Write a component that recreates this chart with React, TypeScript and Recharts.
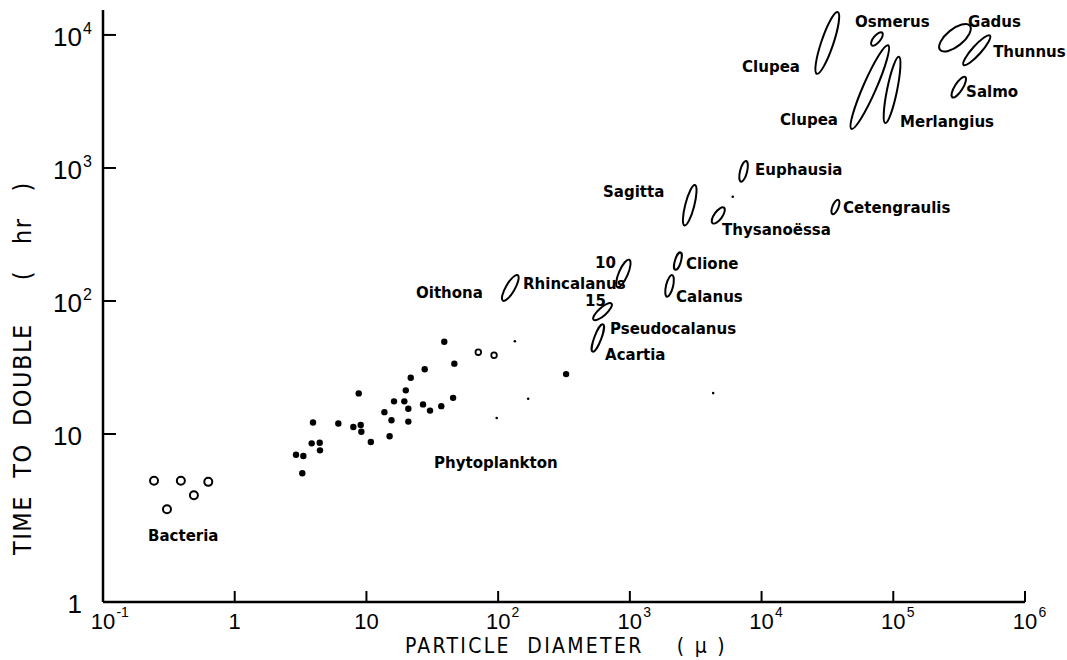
import React from "react";
import { ScatterChart, Scatter, XAxis, YAxis } from "recharts";

// axis setup (log-log). The scanned y axis is stretched below 10, so the
// bottom of the axis is labelled "1" like in the printed figure.
const Y_MIN = 0.546;
const Y_MAX = 15400;
const X_TICKS = [0.1, 1, 10, 100, 1e3, 1e4, 1e5, 1e6];
const X_TICK_BASE = ["10", "1", "10", "10", "10", "10", "10", "10"];
const X_TICK_SUP = ["-1", "", "", "2", "3", "4", "5", "6"];
const Y_TICKS = [Y_MIN, 10, 100, 1000, 10000];
const Y_TICK_BASE = ["1", "10", "10", "10", "10"];
const Y_TICK_SUP = ["", "", "2", "3", "4"];

// particle diameter (µ) vs time to double (hr)
const BACTERIA = [
  { x: 0.244, y: 4.46 },
  { x: 0.39, y: 4.46 },
  { x: 0.63, y: 4.37 },
  { x: 0.49, y: 3.46 },
  { x: 0.306, y: 2.72 },
];

const PHYTOPLANKTON = [
  { x: 39.0, y: 49.4 },
  { x: 46.5, y: 33.8 },
  { x: 27.7, y: 30.7 },
  { x: 21.7, y: 26.5 },
  { x: 8.74, y: 20.2 },
  { x: 19.9, y: 21.3 },
  { x: 16.2, y: 17.6 },
  { x: 19.4, y: 17.6 },
  { x: 45.5, y: 18.7 },
  { x: 26.9, y: 16.7 },
  { x: 20.8, y: 15.5 },
  { x: 30.4, y: 15.0 },
  { x: 37.0, y: 16.2 },
  { x: 13.7, y: 14.6 },
  { x: 3.93, y: 12.2 },
  { x: 6.12, y: 12.0 },
  { x: 7.95, y: 11.3 },
  { x: 9.05, y: 11.7 },
  { x: 9.15, y: 10.4 },
  { x: 15.5, y: 12.7 },
  { x: 20.8, y: 12.4 },
  { x: 10.8, y: 8.71 },
  { x: 15.0, y: 9.61 },
  { x: 3.84, y: 8.51 },
  { x: 4.42, y: 8.6 },
  { x: 4.44, y: 7.54 },
  { x: 2.92, y: 6.99 },
  { x: 3.32, y: 6.83 },
  { x: 3.26, y: 5.07 },
  { x: 328, y: 28.2 },
];

const PHYTO_OPEN = [
  { x: 70.7, y: 41.2 },
  { x: 93.1, y: 39.1 },
];

const SPECKS = [
  { x: 134, y: 49.8 },
  { x: 169, y: 18.4 },
  { x: 97.5, y: 13.2 },
  { x: 4290, y: 20.3 },
  { x: 6040, y: 608 },
];

// each animal group: the two ends of its ellipse
const ELLIPSES = [
  { id: "Rhincalanus", ends: [{ x: 110.9, y: 104 }, { x: 138, y: 151 }] },
  { id: "Calanus10", ends: [{ x: 818, y: 132 }, { x: 974, y: 197 }] },
  { id: "Calanus15", ends: [{ x: 544, y: 74.1 }, { x: 707, y: 93.3 }] },
  { id: "Acartia", ends: [{ x: 528, y: 42.8 }, { x: 618, y: 64.9 }] },
  { id: "Euphausia", ends: [{ x: 7023, y: 812 }, { x: 7586, y: 1096 }] },
  { id: "Sagitta", ends: [{ x: 2625, y: 384 }, { x: 3090, y: 716 }] },
  { id: "Thysanoessa", ends: [{ x: 4337, y: 395 }, { x: 5074, y: 489 }] },
  { id: "Cetengraulis", ends: [{ x: 34900, y: 461 }, { x: 37900, y: 562 }] },
  { id: "Clione", ends: [{ x: 2231, y: 176 }, { x: 2405, y: 226 }] },
  { id: "Calanus", ends: [{ x: 1926, y: 111 }, { x: 2080, y: 152 }] },
  { id: "ClupeaTop", ends: [{ x: 26720, y: 5362 }, { x: 37240, y: 14140 }] },
  { id: "Osmerus", ends: [{ x: 69880, y: 8556 }, { x: 80800, y: 10170 }] },
  { id: "ClupeaLow", ends: [{ x: 49260, y: 2069 }, { x: 89270, y: 7943 }] },
  { id: "Merlangius", ends: [{ x: 87700, y: 2268 }, { x: 109300, y: 6568 }] },
  { id: "Gadus", ends: [{ x: 240000, y: 8100 }, { x: 360000, y: 11200 }] },
  { id: "Thunnus", ends: [{ x: 351000, y: 6127 }, { x: 527600, y: 9610 }] },
  { id: "Salmo", ends: [{ x: 286100, y: 3496 }, { x: 344900, y: 4692 }] },
];

// minor axis of each ellipse, px
const ELLIPSE_WIDTH: Record<string, number> = {
  Rhincalanus: 9, Calanus10: 9, Calanus15: 8, Acartia: 7, Euphausia: 7,
  Sagitta: 9, Thysanoessa: 8, Cetengraulis: 6, Clione: 6, Calanus: 7,
  ClupeaTop: 12, Osmerus: 7, ClupeaLow: 13, Merlangius: 10, Gadus: 17,
  Thunnus: 9, Salmo: 8,
};

const LABELS = [
  { text: "Osmerus", x: 51290, y: 12525 },
  { text: "Gadus", x: 369800, y: 12525 },
  { text: "Thunnus", x: 573000, y: 7451 },
  { text: "Salmo", x: 357000, y: 3727 },
  { text: "Clupea", x: 7112, y: 5745 },
  { text: "Clupea", x: 13820, y: 2296 },
  { text: "Merlangius", x: 112700, y: 2218 },
  { text: "Euphausia", x: 8925, y: 966 },
  { text: "Sagitta", x: 626, y: 660 },
  { text: "Cetengraulis", x: 41570, y: 500 },
  { text: "Thysanoëssa", x: 5012, y: 342 },
  { text: "10", x: 544, y: 193 },
  { text: "Clione", x: 2671, y: 190 },
  { text: "Oithona", x: 23.8, y: 115 },
  { text: "Rhincalanus", x: 154.5, y: 134 },
  { text: "Calanus", x: 2243, y: 107 },
  { text: "15", x: 457, y: 100 },
  { text: "Pseudocalanus", x: 707, y: 61.6 },
  { text: "Acartia", x: 648, y: 39.3 },
  { text: "Phytoplankton", x: 32.6, y: 6.05 },
  { text: "Bacteria", x: 0.2197, y: 1.71 },
];

const TICK_FONT = "'Liberation Sans', Arial, sans-serif";
const TITLE_FONT = "'Liberation Sans Narrow', 'DejaVu Sans Condensed', sans-serif";
const LABEL_FONT = "'DejaVu Sans', sans-serif";

function XTick(props: any) {
  const { x, y, index } = props;
  const base = X_TICK_BASE[index];
  const sup = X_TICK_SUP[index];
  const half = base.length * 6.2;
  return (
    <g>
      {index > 0 && <line x1={x} y1={y} x2={x} y2={y - 11} stroke="#000" strokeWidth={2} />}
      <text x={x} y={y + 27} textAnchor="middle" fontSize={22} fontFamily={TICK_FONT} fill="#000">
        {base}
      </text>
      {sup && (
        <text x={x + half + 1} y={y + 15} textAnchor="start" fontSize={14} fontFamily={TICK_FONT} fill="#000">
          {sup}
        </text>
      )}
    </g>
  );
}

function YTick(props: any) {
  const { x, y, index } = props;
  const base = Y_TICK_BASE[index];
  const sup = Y_TICK_SUP[index];
  return (
    <g>
      {index > 0 && <line x1={x} y1={y} x2={x + 13} y2={y} stroke="#000" strokeWidth={2} />}
      <text x={x - 21} y={y + 11} textAnchor="end" fontSize={26} fontFamily={TICK_FONT} fill="#000">
        {base}
      </text>
      {sup && (
        <text x={x - 20} y={y - 1} textAnchor="start" fontSize={16} fontFamily={TICK_FONT} fill="#000">
          {sup}
        </text>
      )}
    </g>
  );
}

const ellipseLine = (w: number) => (props: any) => {
  const pts = props.points;
  if (!pts || pts.length < 2) return <g />;
  const [a, b] = pts;
  const cx = (a.x + b.x) / 2;
  const cy = (a.y + b.y) / 2;
  const len = Math.hypot(b.x - a.x, b.y - a.y);
  const ang = (Math.atan2(b.y - a.y, b.x - a.x) * 180) / Math.PI;
  return (
    <ellipse
      cx={cx}
      cy={cy}
      rx={len / 2 + w / 4}
      ry={w / 2}
      transform={`rotate(${ang} ${cx} ${cy})`}
      fill="none"
      stroke="#000"
      strokeWidth={2}
    />
  );
};

export default function App() {
  return (
    <div style={{ position: "absolute", left: 0, top: 0, width: 1067, height: 660, background: "#fff" }}>
      <ScatterChart width={1067} height={660} margin={{ top: 10, right: 42, bottom: 8, left: 8 }}>
        <XAxis
          type="number"
          dataKey="x"
          scale="log"
          domain={[0.1, 1e6]}
          ticks={X_TICKS}
          interval={0}
          height={50}
          tickSize={0}
          tickMargin={0}
          tickLine={false}
          axisLine={{ stroke: "#000", strokeWidth: 2.5 }}
          tick={(p: any) => <XTick {...p} />}
          label={{
            content: (p: any) => {
              const vb = p.viewBox || { x: 103, y: 602 };
              return (
                <text
                  x={vb.x + 302}
                  y={vb.y + 51}
                  textAnchor="start"
                  fontSize={21}
                  letterSpacing={2.3}
                  fontFamily={TITLE_FONT}
                  fill="#000"
                  xmlSpace="preserve"
                >
                  {"PARTICLE  DIAMETER    ( µ )"}
                </text>
              );
            },
          }}
        />
        <YAxis
          type="number"
          dataKey="y"
          scale="log"
          domain={[Y_MIN, Y_MAX]}
          ticks={Y_TICKS}
          interval={0}
          width={95}
          tickSize={0}
          tickMargin={0}
          tickLine={false}
          axisLine={{ stroke: "#000", strokeWidth: 2.5 }}
          tick={(p: any) => <YTick {...p} />}
          label={{
            content: (p: any) => {
              const vb = p.viewBox || { x: 8, y: 10 };
              const cx = vb.x + 14;
              const cy = vb.y + 545;
              return (
                <text
                  x={cx}
                  y={cy}
                  transform={`rotate(-90 ${cx} ${cy})`}
                  textAnchor="start"
                  dominantBaseline="central"
                  fontSize={25}
                  letterSpacing={1.5}
                  fontFamily={TITLE_FONT}
                  fill="#000"
                  xmlSpace="preserve"
                >
                  {"TIME  TO  DOUBLE     (   hr   )"}
                </text>
              );
            },
          }}
        />
        <Scatter
          data={BACTERIA}
          isAnimationActive={false}
          shape={(p: any) => <circle cx={p.cx} cy={p.cy} r={4} fill="#fff" stroke="#000" strokeWidth={2} />}
        />
        <Scatter
          data={PHYTOPLANKTON}
          isAnimationActive={false}
          shape={(p: any) => <circle cx={p.cx} cy={p.cy} r={3.2} fill="#000" />}
        />
        <Scatter
          data={PHYTO_OPEN}
          isAnimationActive={false}
          shape={(p: any) => <circle cx={p.cx} cy={p.cy} r={2.8} fill="#fff" stroke="#000" strokeWidth={1.8} />}
        />
        <Scatter
          data={SPECKS}
          isAnimationActive={false}
          shape={(p: any) => <circle cx={p.cx} cy={p.cy} r={1.3} fill="#000" />}
        />
        {ELLIPSES.map((e) => (
          <Scatter
            key={e.id}
            data={e.ends}
            isAnimationActive={false}
            line={ellipseLine(ELLIPSE_WIDTH[e.id])}
            lineType="joint"
            shape={() => <g />}
          />
        ))}
        <Scatter
          data={LABELS}
          isAnimationActive={false}
          shape={(p: any) => (
            <text
              x={p.cx}
              y={p.cy}
              dominantBaseline="central"
              textAnchor="start"
              fontSize={15}
              fontWeight="bold"
              fontFamily={LABEL_FONT}
              fill="#000"
            >
              {p.payload.text}
            </text>
          )}
        />
      </ScatterChart>
    </div>
  );
}
